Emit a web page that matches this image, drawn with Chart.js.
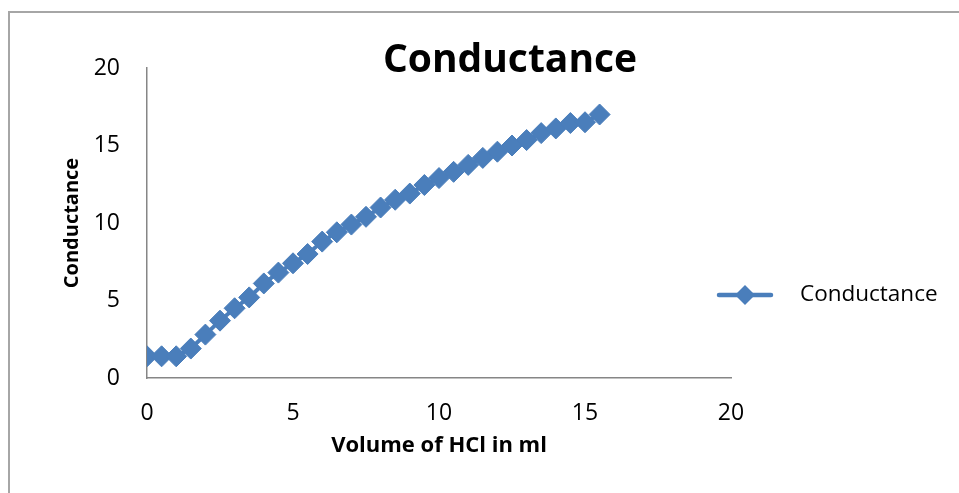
<!DOCTYPE html>
<html>
<head>
<meta charset="utf-8">
<title>Conductance</title>
<script src="https://cdn.jsdelivr.net/npm/chart.js@4.4.1/dist/chart.umd.min.js"></script>
<style>
  body { margin: 0; background: #fff; }
  #wrap { width: 959px; height: 493px; }
</style>
</head>
<body>
<div id="wrap"><canvas id="myChart" width="959" height="493"></canvas></div>
<script>
const chartTitle = "Conductance";
const seriesName = "Conductance";
const xTitle = "Volume of HCl in ml";
const yTitle = "Conductance";

// volume of HCl added (ml)
const volumes = [
  0, 0.5, 1, 1.5, 2, 2.5, 3, 3.5, 4, 4.5, 5, 5.5, 6, 6.5, 7, 7.5,
  8, 8.5, 9, 9.5, 10, 10.5, 11, 11.5, 12, 12.5, 13, 13.5, 14, 14.5, 15, 15.5,
];
// measured conductance
const conductance = [
  1.4, 1.4, 1.4, 1.9, 2.8, 3.7, 4.5, 5.2, 6.1, 6.8, 7.4, 8.0, 8.8, 9.4, 9.9, 10.4,
  11.0, 11.5, 11.9, 12.45, 12.9, 13.3, 13.75, 14.2, 14.6, 15.0, 15.35, 15.8, 16.1, 16.45, 16.5, 17.0,
];
const xTicks = [0, 5, 10, 15, 20];
const yTicks = [0, 5, 10, 15, 20];

const blue = "#4a7ebb";
const axisGrey = "#868686";
const font = "'Open Sans', 'Liberation Sans', sans-serif";

// outer frame, title and legend are drawn by hand
const decorations = {
  id: "decorations",
  beforeDraw(chart) {
    const ctx = chart.ctx;
    ctx.save();
    ctx.fillStyle = "#fff";
    ctx.fillRect(0, 0, chart.width, chart.height);
    ctx.strokeStyle = "#a6a6a6";
    ctx.lineWidth = 2;
    ctx.strokeRect(9, 12, chart.width, chart.height);
    ctx.restore();
  },
  afterDraw(chart) {
    const ctx = chart.ctx;
    ctx.save();
    ctx.fillStyle = "#000";
    ctx.textAlign = "center";
    ctx.textBaseline = "middle";
    ctx.font = "bold 39px " + font;
    ctx.fillText(chartTitle, 510, 61);

    // legend entry
    const ly = 295;
    ctx.strokeStyle = blue;
    ctx.lineWidth = 4.5;
    ctx.lineCap = "round";
    ctx.beginPath();
    ctx.moveTo(719, ly);
    ctx.lineTo(771, ly);
    ctx.stroke();
    ctx.fillStyle = blue;
    ctx.beginPath();
    ctx.moveTo(735, ly);
    ctx.lineTo(745, ly - 10);
    ctx.lineTo(755, ly);
    ctx.lineTo(745, ly + 10);
    ctx.closePath();
    ctx.fill();

    ctx.fillStyle = "#000";
    ctx.textAlign = "left";
    ctx.font = "22.5px " + font;
    ctx.fillText(seriesName, 800, ly);
    ctx.restore();
  },
};

function initChart() {
  const ctx = document.getElementById("myChart");
  const points = volumes.map((v, i) => ({ x: v, y: conductance[i] }));

  return new Chart(ctx, {
    type: "scatter",
    data: {
      datasets: [
        {
          label: seriesName,
          data: points,
          showLine: true,
          borderColor: blue,
          backgroundColor: blue,
          borderWidth: 4,
          pointStyle: "rectRot",
          pointRadius: 10.5,
          pointBorderWidth: 1,
          pointHoverRadius: 10.5,
        },
      ],
    },
    options: {
      responsive: false,
      animation: false,
      layout: { padding: { top: 68, right: 228, left: 0, bottom: 0 } },
      plugins: {
        legend: { display: false },
        title: { display: false },
        tooltip: { enabled: false },
      },
      scales: {
        x: {
          type: "linear",
          min: 0,
          max: 20,
          grid: { display: false },
          border: { display: true, color: axisGrey, width: 1.5 },
          afterBuildTicks: (scale) => {
            scale.ticks = xTicks.map((v) => ({ value: v }));
          },
          afterFit: (scale) => {
            scale.height = 115;
          },
          ticks: {
            color: "#000",
            padding: 14,
            font: { family: font, size: 23 },
          },
          title: {
            display: true,
            text: xTitle,
            color: "#000",
            padding: { top: 0, bottom: 34 },
            font: { family: font, size: 22, weight: "bold" },
          },
        },
        y: {
          type: "linear",
          min: 0,
          max: 20,
          grid: { display: false },
          border: { display: true, color: axisGrey, width: 1.5 },
          afterBuildTicks: (scale) => {
            scale.ticks = yTicks.map((v) => ({ value: v }));
          },
          afterFit: (scale) => {
            scale.width = 147;
          },
          ticks: {
            color: "#000",
            padding: 19,
            font: { family: font, size: 23 },
          },
          title: {
            display: true,
            text: yTitle,
            color: "#000",
            padding: { top: 60, bottom: 0 },
            font: { family: font, size: 20, weight: "bold" },
          },
        },
      },
    },
    plugins: [decorations],
  });
}

initChart();
</script>
</body>
</html>
